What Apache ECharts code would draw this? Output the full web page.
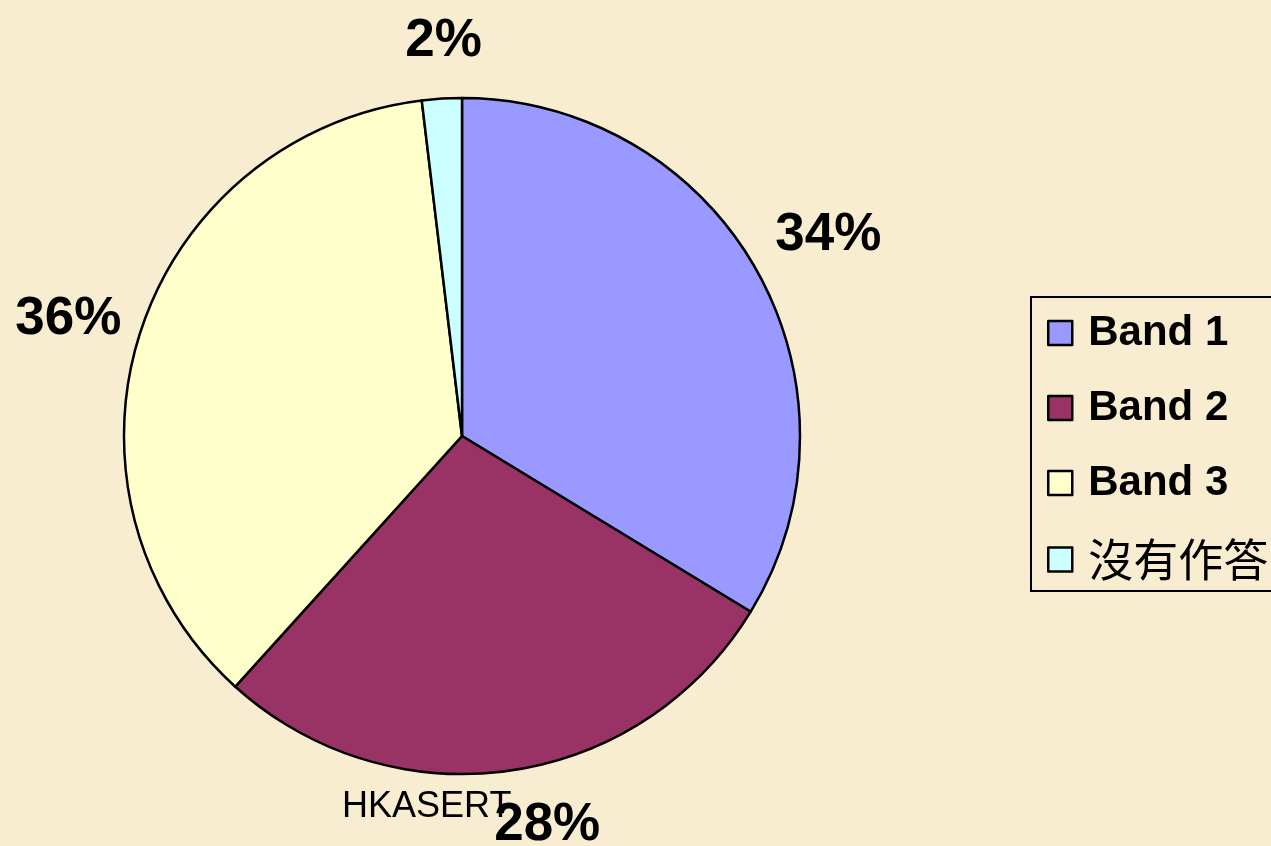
<!DOCTYPE html>
<html lang="zh-Hant">
<head>
    <meta charset="UTF-8">
    <title>Band</title>
    <script src="https://cdn.jsdelivr.net/npm/echarts@6/dist/echarts.min.js"></script>
    <style>
        html, body { margin: 0; padding: 0; background: #f9edd1; }
        #main { width: 1271px; height: 846px; }
    </style>
</head>
<body>
    <div id="main"></div>
    <script>
        // 資料
        var names = ['Band 1', 'Band 2', 'Band 3', '沒有作答'];
        var values = [33.7, 28.0, 36.4, 1.9];
        var colors = ['#9999ff', '#993366', '#ffffcc', '#ccffff'];

        var font = '"Liberation Sans", Arial, sans-serif';
        var cjkFont = '"Noto Sans CJK TC", "Noto Sans CJK SC", sans-serif';

        // 標籤微調 (Excel 的標籤位置並非完全在同一半徑上)
        var labelOffsets = { 'Band 1': [8, 1], 'Band 2': [26, -17], 'Band 3': [-2, 8], '沒有作答': [6, 16] };

        var pieData = names.map(function (n, i) {
            return { name: n, value: values[i], itemStyle: { color: colors[i] } };
        });

        var myChart = echarts.init(document.getElementById('main'));

        var option = {
            backgroundColor: '#f9edd1',
            animation: false,
            legend: {
                orient: 'vertical',
                left: 1031,
                top: 297,
                padding: [15, 20, 9, 16],
                itemWidth: 24,
                itemHeight: 24,
                itemGap: 33,
                icon: 'rect',
                selectedMode: false,
                borderColor: '#000',
                borderWidth: 2,
                itemStyle: { borderColor: '#000', borderWidth: 2.5 },
                data: names,
                formatter: function (name) {
                    return name === '沒有作答' ? '{c|' + name + '}' : '{b|' + name + '}';
                },
                textStyle: {
                    rich: {
                        b: { fontFamily: font, fontWeight: 'bold', fontSize: 42, lineHeight: 44, color: '#000', padding: [0, 0, 0, 11] },
                        c: { fontFamily: cjkFont, fontSize: 45, lineHeight: 50, color: '#000', padding: [0, 0, 0, 11] }
                    }
                }
            },
            graphic: [{
                type: 'text',
                left: 342,
                top: 789,
                z: 0,
                style: { text: 'HKASERT', font: '36px ' + font, fill: '#000' }
            }],
            series: [
                {
                    type: 'pie',
                    center: [462, 436],
                    radius: 338,
                    startAngle: 90,
                    clockwise: true,
                    avoidLabelOverlap: false,
                    label: { show: false },
                    labelLine: { show: false },
                    itemStyle: { borderColor: '#000', borderWidth: 2.5 },
                    emphasis: { disabled: true },
                    data: pieData
                },
                {
                    // 百分比標籤
                    type: 'pie',
                    center: [462, 436],
                    radius: [382, 434],
                    startAngle: 90,
                    clockwise: true,
                    silent: true,
                    z: 3,
                    avoidLabelOverlap: false,
                    itemStyle: { color: 'rgba(0,0,0,0)', borderWidth: 0 },
                    label: {
                        show: true,
                        position: 'inside',
                        rotate: 0,
                        color: '#000',
                        fontFamily: font,
                        fontWeight: 'bold',
                        fontSize: 53,
                        formatter: function (p) { return Math.round(p.percent) + '%'; }
                    },
                    labelLine: { show: false },
                    emphasis: { disabled: true },
                    data: names.map(function (n, i) {
                        return { name: n, value: values[i], label: { offset: labelOffsets[n] } };
                    })
                }
            ]
        };

        myChart.setOption(option);
    </script>
</body>
</html>
